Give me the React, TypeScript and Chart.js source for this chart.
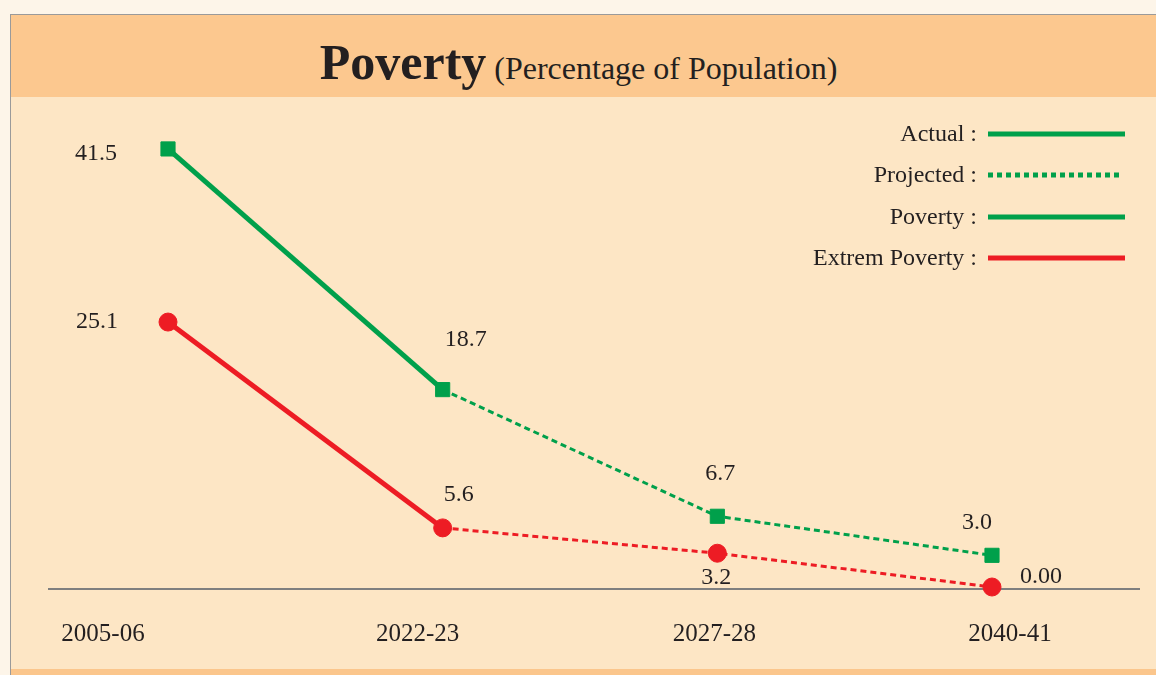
import React, { useEffect, useRef } from "react";
import { Chart, registerables } from "chart.js";

Chart.register(...registerables);

const categories = ["2005-06", "2022-23", "2027-28", "2040-41"];
const povertyValues = [41.5, 18.7, 6.7, 3.0];
const extremeValues = [25.1, 5.6, 3.2, 0.0];
const povertyLabels = ["41.5", "18.7", "6.7", "3.0"];
const extremeLabels = ["25.1", "5.6", "3.2", "0.00"];
const legendItems = ["Actual :", "Projected :", "Poverty :", "Extrem Poverty :"];

const GREEN = "#00a04b";
const RED = "#ed1c24";
const TEXT = "#231f20";
const FONT = "'Liberation Serif', 'Times New Roman', serif";

// label offsets relative to point (dx, dy)
const povertyOffsets = [[-72, 5], [23, -50], [3, -43], [-15, -33]];
const extremeOffsets = [[-71, 0], [16, -33], [-1, 24], [49, -10]];
const categoryOffsets = [-65, -25, -3, 18];

const overlayPlugin = {
  id: "overlay",
  beforeDatasetsDraw(chart: any) {
    const ctx = chart.ctx;
    const y0 = chart.scales.y.getPixelForValue(0);
    ctx.save();
    ctx.strokeStyle = "#7f7f7f";
    ctx.lineWidth = 2;
    ctx.beginPath();
    ctx.moveTo(48, y0 + 2);
    ctx.lineTo(1140, y0 + 2);
    ctx.stroke();
    ctx.restore();
  },
  afterDatasetsDraw(chart: any) {
    const ctx = chart.ctx;
    ctx.save();
    ctx.fillStyle = TEXT;
    ctx.textAlign = "center";
    ctx.textBaseline = "middle";
    ctx.font = `24px ${FONT}`;
    const sets = [
      { labels: povertyLabels, offs: povertyOffsets, idx: 0 },
      { labels: extremeLabels, offs: extremeOffsets, idx: 1 },
    ];
    sets.forEach((s) => {
      const meta = chart.getDatasetMeta(s.idx);
      meta.data.forEach((pt: any, i: number) => {
        ctx.fillText(s.labels[i], pt.x + s.offs[i][0], pt.y + s.offs[i][1]);
      });
    });
    // category labels
    const xs = chart.scales.x;
    const y0 = chart.scales.y.getPixelForValue(0);
    ctx.font = `25px ${FONT}`;
    categories.forEach((c, i) => {
      ctx.fillText(c, xs.getPixelForValue(i) + categoryOffsets[i], y0 + 47);
    });
    // legend
    ctx.textAlign = "right";
    ctx.font = `24px ${FONT}`;
    const rowY = [134, 175, 217, 258];
    const styles = [
      { color: GREEN, dash: [] as number[] },
      { color: GREEN, dash: [5, 4] },
      { color: GREEN, dash: [] as number[] },
      { color: RED, dash: [] as number[] },
    ];
    legendItems.forEach((t, i) => {
      ctx.fillStyle = TEXT;
      ctx.fillText(t, 977, rowY[i] + 1);
      ctx.strokeStyle = styles[i].color;
      ctx.lineWidth = 5;
      ctx.setLineDash(styles[i].dash);
      ctx.beginPath();
      ctx.moveTo(988, rowY[i]);
      ctx.lineTo(i === 1 ? 1123 : 1125, rowY[i]);
      ctx.stroke();
    });
    ctx.setLineDash([]);
    ctx.restore();
  },
};

const segDash = (ctx: any) => (ctx.p0DataIndex >= 1 ? [6, 4] : undefined);
const segWidth = (ctx: any) => (ctx.p0DataIndex >= 1 ? 3 : 5);

export default function App() {
  const ref = useRef<HTMLCanvasElement>(null);
  useEffect(() => {
    if (!ref.current) return;
    const chart = new Chart(ref.current, {
      type: "line",
      data: {
        labels: categories,
        datasets: [
          {
            label: "Poverty",
            data: povertyValues,
            borderColor: GREEN,
            backgroundColor: GREEN,
            pointStyle: "rect",
            pointRadius: 10,
            pointBorderWidth: 1,
            borderWidth: 5,
            clip: false,
            segment: { borderDash: segDash, borderWidth: segWidth },
          },
          {
            label: "Extrem Poverty",
            data: extremeValues,
            borderColor: RED,
            backgroundColor: RED,
            pointStyle: "circle",
            pointRadius: 9,
            pointBorderWidth: 1,
            borderWidth: 5,
            clip: false,
            segment: { borderDash: segDash, borderWidth: segWidth },
          },
        ],
      },
      options: {
        animation: false,
        responsive: false,
        maintainAspectRatio: false,
        layout: { padding: { left: 168, right: 164, top: 112, bottom: 88 } },
        scales: {
          x: { type: "category", display: false, offset: false },
          y: { display: false, min: 0, max: 45 },
        },
        plugins: {
          legend: { display: false },
          tooltip: { enabled: false },
          title: { display: false },
        },
        events: [],
      },
      plugins: [overlayPlugin],
    });
    return () => chart.destroy();
  }, []);

  return (
    <div style={{ position: "absolute", left: 0, top: 0, width: 1156, height: 675, background: "#fdf5e9", overflow: "hidden" }}>
      <div style={{ position: "absolute", left: 10, top: 14, width: 1146, height: 661, background: "#fde6c5", borderLeft: "1px solid #9a9a9a", borderTop: "1px solid #9a9a9a" }} />
      <div style={{ position: "absolute", left: 11, top: 15, width: 1145, height: 82, background: "#fcc88f", display: "flex", alignItems: "center", justifyContent: "center" }}>
        <div style={{ fontFamily: FONT, color: TEXT, whiteSpace: "nowrap", marginTop: 12, marginLeft: -10 }}>
          <span style={{ fontSize: 50, fontWeight: "bold" }}>Poverty</span>
          <span style={{ fontSize: 32 }}> (Percentage of Population)</span>
        </div>
      </div>
      <div style={{ position: "absolute", left: 11, top: 669, width: 1145, height: 6, background: "#fbc68c" }} />
      <canvas ref={ref} width={1156} height={675} style={{ position: "absolute", left: 0, top: 0, width: 1156, height: 675 }} />
    </div>
  );
}
